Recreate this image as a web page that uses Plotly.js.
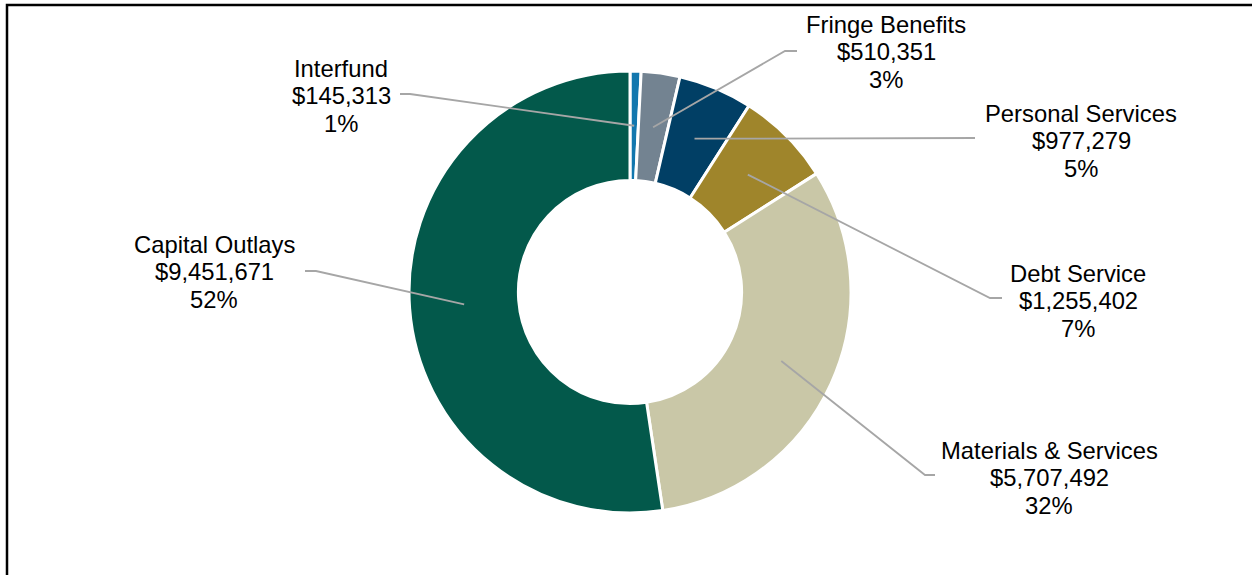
<!DOCTYPE html>
<html>
<head>
<meta charset="utf-8">
<script src="https://cdn.plot.ly/plotly-3.0.1.min.js"></script>
<style>html,body{margin:0;padding:0;background:#fff;}#chart{width:1252px;height:575px;}</style>
</head>
<body>
<div id="chart"></div>
<script>
// Data
var categories = ["Interfund", "Fringe Benefits", "Personal Services", "Debt Service", "Materials & Services", "Capital Outlays"];
var amounts = [145313, 510351, 977279, 1255402, 5707492, 9451671];
var sliceColors = ["#1277AE", "#738391", "#013F65", "#9F852B", "#C9C7A7", "#03594B"];

// Layout (pixel positions)
var W = 1252, H = 575;
var cx = 630, cy = 292, rOut = 221, holeFrac = 0.505;
// label placement: center x, first-line y, elbow point, line end point
var labelPos = [
  {x: 341, y: 68, elbow: [410, 94], end: [400, 94]},
  {x: 886, y: 24, elbow: [785, 51], end: [797, 51]},
  {x: 1081, y: 113, elbow: [975, 138], end: [975, 138]},
  {x: 1078, y: 273, elbow: [990, 298], end: [1002, 298]},
  {x: 1049, y: 450, elbow: [925, 475], end: [935, 475]},
  {x: 214, y: 244, elbow: [316, 271], end: [305, 271]}
];
var lineGap = 27.7;

var total = amounts.reduce(function(a, b){return a + b;}, 0);
function fmtMoney(v){ return "$" + v.toLocaleString("en-US"); }

var trace = {
  type: "pie",
  labels: categories,
  values: amounts,
  sort: false,
  direction: "clockwise",
  rotation: 0,
  hole: holeFrac,
  textinfo: "none",
  hoverinfo: "label+value+percent",
  marker: {colors: sliceColors, line: {color: "#ffffff", width: 3}},
  domain: {x: [(cx - rOut) / W, (cx + rOut) / W], y: [(H - cy - rOut) / H, (H - cy + rOut) / H]},
  showlegend: false
};

var shapes = [];
var annotations = [];
var cum = 0;
var rMid = rOut * (1 + holeFrac) / 2;
for (var i = 0; i < amounts.length; i++) {
  var frac = amounts[i] / total;
  var mid = (cum + frac / 2) * 2 * Math.PI;
  cum += frac;
  var sx = cx + rMid * Math.sin(mid);
  var sy = cy - rMid * Math.cos(mid);
  var lp = labelPos[i];
  shapes.push({
    type: "path", xref: "x", yref: "y",
    path: "M" + sx + "," + sy + " L" + lp.elbow[0] + "," + lp.elbow[1] + " L" + lp.end[0] + "," + lp.end[1],
    line: {color: "#A6A6A6", width: 1.8}
  });
  var lines = [categories[i], fmtMoney(amounts[i]), Math.round(frac * 100) + "%"];
  for (var k = 0; k < 3; k++) {
    annotations.push({
      xref: "x", yref: "y", x: lp.x, y: lp.y + k * lineGap,
      text: lines[k], showarrow: false, xanchor: "center", yanchor: "middle",
      font: {family: "Liberation Sans, Arial, sans-serif", size: 23.8, color: "#000000"}
    });
  }
}
// frame
shapes.push({type: "rect", xref: "x", yref: "y", x0: 7, y0: 5, x1: 1270, y1: 600, line: {color: "#000000", width: 2.5}});

var layout = {
  width: W, height: H,
  margin: {l: 0, r: 0, t: 0, b: 0},
  paper_bgcolor: "#ffffff", plot_bgcolor: "rgba(0,0,0,0)",
  xaxis: {range: [0, W], visible: false, fixedrange: true},
  yaxis: {range: [H, 0], visible: false, fixedrange: true},
  shapes: shapes,
  annotations: annotations,
  showlegend: false
};

Plotly.newPlot("chart", [trace], layout, {displayModeBar: false, staticPlot: true});
</script>
</body>
</html>
